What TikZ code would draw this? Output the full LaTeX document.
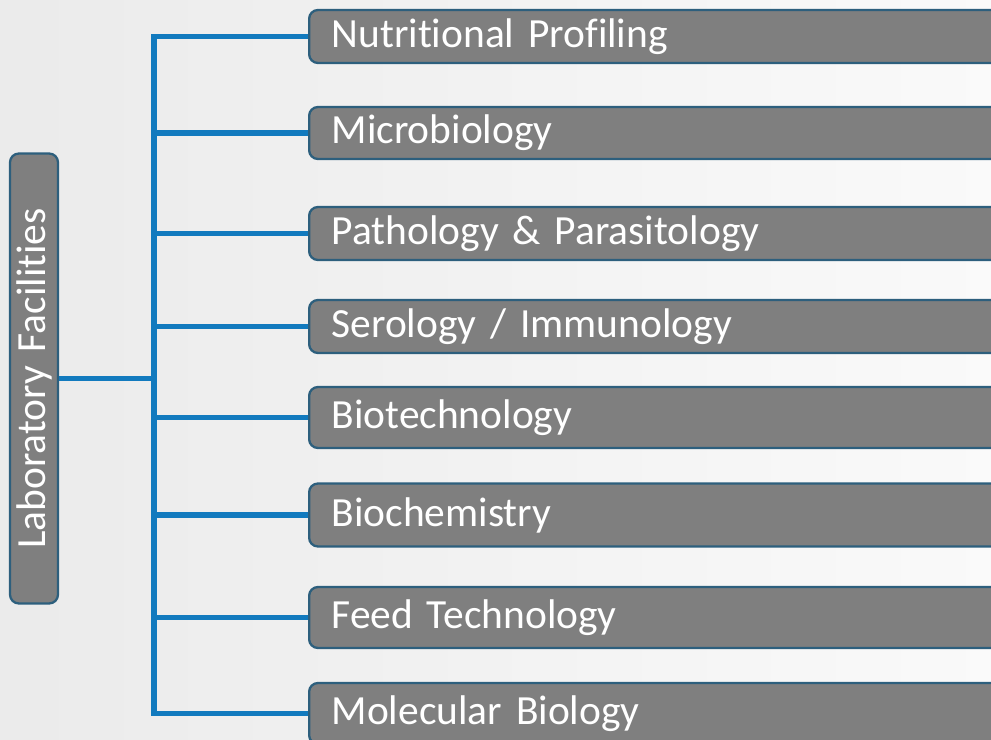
\documentclass[tikz,border=0pt]{standalone}
\usepackage{fontspec}
\setmainfont{Carlito}[Ligatures=NoCommon]
\usepackage{tikz}
\definecolor{boxgray}{RGB}{127,127,127}
\definecolor{boxline}{RGB}{45,95,125}
\definecolor{linkblue}{RGB}{18,122,190}

\begin{document}
\begin{tikzpicture}[x=0.02cm,y=-0.02cm]
	\tikzstyle{area}=[rectangle,rounded corners=5pt,draw=boxline,line width=1.3pt,fill=boxgray,text=white,font=\fontsize{23.6}{28}\selectfont,anchor=west,minimum width=13.9cm,text width=13cm,align=left,inner xsep=0.44cm,inner ysep=0pt]
	\tikzstyle{link}=[draw=linkblue,line width=3.2pt]
	\useasboundingbox (0,0) rectangle (991,740);
	\clip (0,0) rectangle (991,740);
	\shade[left color=black!8,right color=black!2] (0,0) rectangle (991,740);
	\node[area,minimum height=1.06cm] (1) at (308,36.5) {Nutritional Profiling};
	\node[area,minimum height=1.04cm] (2) at (308,133) {Microbiology};
	\node[area,minimum height=1.06cm] (3) at (308,233.5) {Pathology \& Parasitology};
	\node[area,minimum height=1.06cm] (4) at (308,326.5) {Serology / Immunology};
	\node[area,minimum height=1.22cm] (5) at (308,417.5) {Biotechnology};
	\node[area,minimum height=1.26cm] (6) at (308,515) {Biochemistry};
	\node[area,minimum height=1.22cm] (7) at (308,617.5) {Feed Technology};
	\node[area,minimum height=1.22cm] (8) at (308,713.5) {Molecular Biology};
	\node[area,anchor=center,rotate=90,minimum width=9cm,minimum height=0.96cm,text width=8cm,align=center,inner sep=0pt] (0) at (34,378.5) {Laboratory Facilities};
	\coordinate (c0) at (154,378.5);
	\coordinate (c1) at (154,36.5);
	\coordinate (c2) at (154,133);
	\coordinate (c3) at (154,233.5);
	\coordinate (c4) at (154,326.5);
	\coordinate (c5) at (154,417.5);
	\coordinate (c6) at (154,515);
	\coordinate (c7) at (154,617.5);
	\coordinate (c8) at (154,713.5);
	\draw[link] (1) -- (c1) -- (c8) -- (8);
	\foreach \i in {2,...,7}
		\draw[link] (c\i) -- (\i);
	\draw[link] (0) -- (c0);
\end{tikzpicture}
\end{document}
